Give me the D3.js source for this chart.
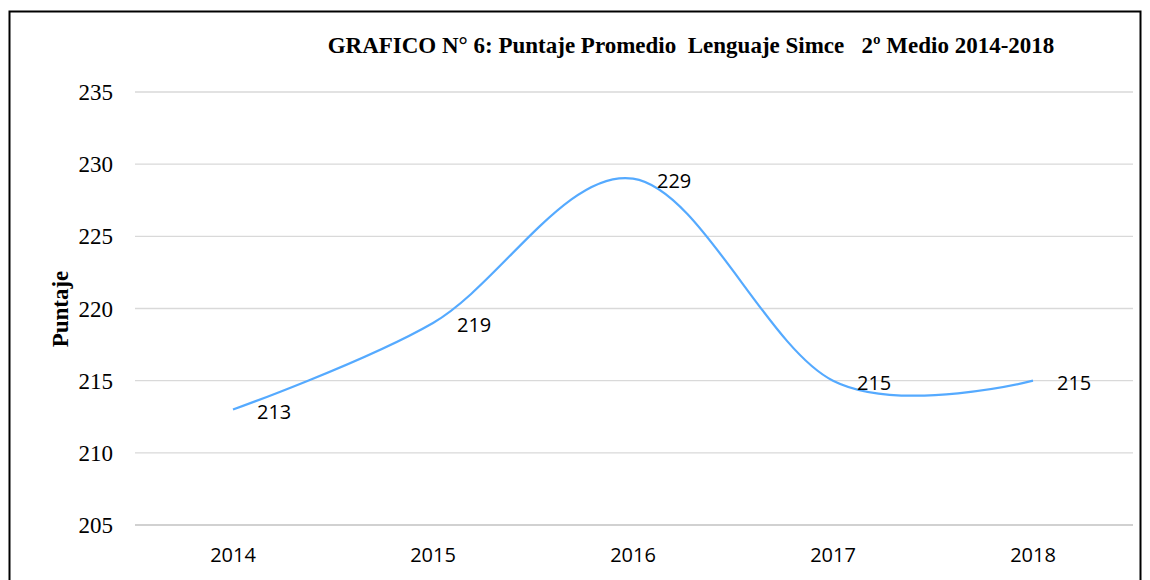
<!DOCTYPE html>
<html>
<head>
<meta charset="utf-8">
<script src="https://cdn.jsdelivr.net/npm/d3@7"></script>
<style>
  body { margin: 0; background: #fff; }
  svg text { white-space: pre; }
</style>
</head>
<body>
<div id="chart"></div>
<script>
// data
var years = ['2014', '2015', '2016', '2017', '2018'];
var puntaje = [213, 219, 229, 215, 215];
var yTicks = [205, 210, 215, 220, 225, 230, 235];

var width = 1150, height = 580;

var svg = d3.select('#chart').append('svg')
    .attr('width', width)
    .attr('height', height);

// outer frame
svg.append('rect')
    .attr('x', 9.5).attr('y', 11.5)
    .attr('width', 1131).attr('height', 600)
    .attr('fill', 'none')
    .attr('stroke', '#000')
    .attr('stroke-width', 2);

var x = d3.scaleBand().domain(years).range([133, 1133]);
var y = d3.scaleLinear().domain([205, 235]).range([525, 92]);

// gridlines
svg.append('g').selectAll('line')
    .data(yTicks)
    .enter().append('line')
    .attr('x1', 135).attr('x2', 1133)
    .attr('y1', d => y(d)).attr('y2', d => y(d))
    .attr('stroke', d => d === 205 ? '#c2c2c2' : '#d9d9d9')
    .attr('stroke-width', 1.3);

// y axis labels
svg.append('g').selectAll('text')
    .data(yTicks)
    .enter().append('text')
    .attr('x', 113)
    .attr('y', d => y(d))
    .attr('dy', '0.35em')
    .attr('text-anchor', 'end')
    .style('font-family', '"Liberation Serif", "Times New Roman", serif')
    .style('font-size', '23px')
    .text(d => d);

// x axis labels
svg.append('g').selectAll('text')
    .data(years)
    .enter().append('text')
    .attr('x', d => x(d) + x.bandwidth() / 2)
    .attr('y', 555)
    .attr('dy', '0.35em')
    .attr('text-anchor', 'middle')
    .style('font-family', '"Open Sans", sans-serif')
    .style('font-size', '20px')
    .text(d => d);

// line
var line = d3.line()
    .x((d, i) => x(years[i]) + x.bandwidth() / 2)
    .y(d => y(d))
    .curve(d3.curveCardinal.tension(0));

svg.append('path')
    .datum(puntaje)
    .attr('d', line)
    .attr('fill', 'none')
    .attr('stroke', '#55aaff')
    .attr('stroke-width', 2.2);

// data labels
svg.append('g').selectAll('text')
    .data(puntaje)
    .enter().append('text')
    .attr('x', (d, i) => x(years[i]) + x.bandwidth() / 2 + 24)
    .attr('y', d => y(d) + 2)
    .attr('dy', '0.35em')
    .style('font-family', '"Open Sans", sans-serif')
    .style('font-size', '20px')
    .text(d => d);

// title
svg.append('text')
    .attr('x', 691)
    .attr('y', 45)
    .attr('dy', '0.35em')
    .attr('text-anchor', 'middle')
    .style('font-family', '"Liberation Serif", "Times New Roman", serif')
    .style('font-weight', 'bold')
    .style('font-size', '23px')
    .text('GRAFICO N° 6: Puntaje Promedio  Lenguaje Simce   2º Medio 2014-2018');

// y axis title
svg.append('text')
    .attr('transform', 'translate(60,309) rotate(-90)')
    .attr('dy', '0.35em')
    .attr('text-anchor', 'middle')
    .style('font-family', '"Liberation Serif", "Times New Roman", serif')
    .style('font-weight', 'bold')
    .style('font-size', '23px')
    .text('Puntaje');
</script>
</body>
</html>
